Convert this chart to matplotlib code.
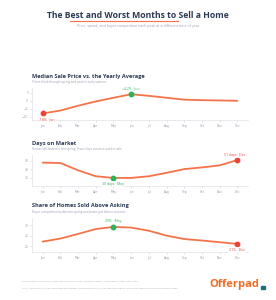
import matplotlib
matplotlib.use("Agg")
import matplotlib.pyplot as plt

months = ['Jan', 'Feb', 'Mar', 'Apr', 'May', 'Jun', 'Jul', 'Aug', 'Sep', 'Oct', 'Nov', 'Dec']

price_vs_avg = [-7.8, -6.0, -3.0, -0.3, 2.0, 4.2, 3.2, 2.0, 0.8, 0.5, 0.3, 0.1]
price_ticks = [5, 0, -5, -10]

days_on_market = [48, 47.6, 39, 32, 30, 30, 32, 36, 40.4, 42.4, 44.8, 51]
days_ticks = [50, 40, 30]

above_asking = [22.2, 23.6, 25.8, 28.1, 29.1, 28.8, 27.3, 25.0, 23.4, 22.7, 21.9, 21.1]
asking_ticks = [30, 25, 20]

W, H = 276, 300
NAVY = '#2b3a55'
ORANGE = '#f5734a'
GREEN = '#2bb35a'
RED = '#e8443a'
GRAY = '#9aa3b0'

fig = plt.figure(figsize=(W / 100, H / 100), dpi=100)
fig.patch.set_facecolor('white')


def px(x, y):
    return x / W, 1 - y / H


# header
fig.text(*px(138, 16), 'The Best and Worst Months to Sell a Home', ha='center', va='center',
         fontsize=6.2, fontweight='bold', color=NAVY, family='Open Sans')
fig.add_artist(plt.Line2D([70 / W, 178 / W], [1 - 21.3 / H] * 2, color=ORANGE, lw=0.8))
fig.text(*px(138, 25.5), 'Price, speed, and buyer competition each peak at a different time of year',
         ha='center', va='center', fontsize=2.6, color=GRAY, family='Open Sans')


def panel(top, bottom, title, sub, vals, ticks, ylim, best, worst, fmt, best_pos, worst_pos):
    fig.text(*px(32, top - 12), title, ha='left', va='center', fontsize=4.1,
             fontweight='bold', color=NAVY, family='Open Sans')
    fig.text(*px(32, top - 6), sub, ha='left', va='center', fontsize=2.2,
             color=GRAY, family='Open Sans')
    ax = fig.add_axes([32 / W, 1 - bottom / H, 216 / W, (bottom - top) / H])
    x = list(range(len(months)))
    ax.plot(x, vals, color=ORANGE, lw=1.3, solid_capstyle='round', zorder=2)
    ax.set_xlim(-0.6, 11.6)
    ax.set_ylim(*ylim)
    ax.set_xticks(x)
    ax.set_xticklabels(months)
    ax.set_yticks(ticks)
    ax.tick_params(labelsize=2.2, colors='#c9ced6', labelcolor=GRAY, length=1.2,
                   width=0.4, pad=1.5)
    for s in ['top', 'right']:
        ax.spines[s].set_visible(False)
    for s in ['left', 'bottom']:
        ax.spines[s].set_color('#dde1e7')
        ax.spines[s].set_linewidth(0.5)
    for i, c, pos in [(best, GREEN, best_pos), (worst, RED, worst_pos)]:
        ax.plot(i, vals[i], 'o', ms=3.2, color=c, zorder=3)
        ax.annotate(fmt(vals[i], months[i]), (i, vals[i]), xytext=pos,
                    textcoords='offset points', ha='center', va='center',
                    fontsize=2.5, color=c, family='Open Sans',
                    bbox=dict(boxstyle='square,pad=0.3', fc='white', ec='none', alpha=0.8))
    return ax


panel(88, 120, 'Median Sale Price vs. the Yearly Average',
      'Prices climb through spring and peak in early summer',
      price_vs_avg, price_ticks, (-11.9, 8.1), 5, 0,
      lambda v, m: f'{v:+.1f}% · {m}', (0, 4.5), (3, -4.5))

panel(155, 186, 'Days on Market',
      'Homes sell fastest in late spring; fewer days means a quicker sale',
      days_on_market, days_ticks, (20.5, 57), 4, 11,
      lambda v, m: f'{v:.0f} days · {m}', (0, -4.5), (-2, 4))

panel(218, 252, 'Share of Homes Sold Above Asking',
      'Buyer competition builds into spring and peaks just before summer',
      above_asking, asking_ticks, (17.3, 33.3), 4, 11,
      lambda v, m: f'{v:.0f}% · {m}', (0, 4.5), (0, -4.5))

# footer
fig.text(*px(22, 281.5), 'Source: Redfin Data Center (redfin.com/news/data-center). Monthly averages, single-family homes, 2021-2023.',
         ha='left', va='center', fontsize=1.6, color=GRAY, family='Open Sans')
fig.text(*px(22, 288), '15 U.S. metropolitan areas where Offerpad operates. Market-wide data, not Offerpad transactions. Information deemed reliable but not guaranteed.',
         ha='left', va='center', fontsize=1.6, color=GRAY, family='Open Sans')
fig.text(*px(259, 284), 'Offerpad', ha='right', va='center', fontsize=8,
         fontweight='bold', color='#f26b22', family='Open Sans')
fig.add_artist(plt.Rectangle((261 / W, 1 - 289 / H), 3.5 / W, 3 / H, color='#1f6f7a',
                             transform=fig.transFigure))

fig.savefig('out.png', dpi=100)
